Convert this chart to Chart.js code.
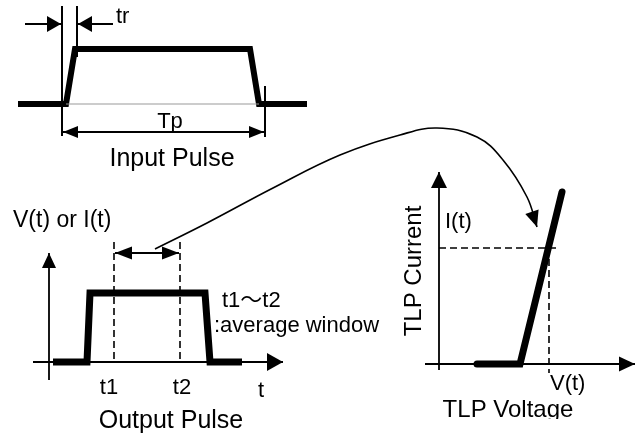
<!DOCTYPE html>
<html>
<head>
<meta charset="utf-8">
<title>TLP measurement</title>
<script src="https://cdn.jsdelivr.net/npm/chart.js@4/dist/chart.umd.min.js"></script>
<style>
  html, body { margin: 0; padding: 0; background: #fff; }
  canvas { display: block; }
</style>
</head>
<body>
<canvas id="TlpBox" width="639" height="438"></canvas>
<script>
        // diagram units, y grows downward (y scale is reversed)

        // input pulse
        const inputPulse = [[18,104],[66,104],[75,49],[250,49],[259,104],[307,104]];
        const inputBase = [[66,104],[259,104]];
        const riseMarkLeft = [[62,6],[62,136]];
        const riseMarkRight = [[77,6],[77,57]];
        const widthMarkRight = [[265,86],[265,137]];
        const trArrowIn = [[25,24],[61,24]];
        const trArrowOut = [[113,24],[78,24]];
        const tpArrow = [[63,132],[264,132]];

        // output pulse
        const outAxisY = [[49,380],[49,253]];
        const outAxisX = [[33,362],[283,362]];
        const outputPulse = [[53,362],[87,362],[90,293],[205,293],[210,362],[242,362]];
        const windowT1 = [[114,242],[114,362]];
        const windowT2 = [[180,242],[180,362]];
        const windowArrow = [[115,253],[179,253]];

        // curved link arrow
        const linkCurve = [[155,249],[207,223],[273,188],[340,155],[400,135],[437,128],[477,137],[503,160],[527,197],[537,227]];

        // TLP I-V plot
        const tlpAxisY = [[439,370],[439,172]];
        const tlpAxisX = [[425,364],[635,364]];
        const tlpCurve = [[477,364],[520,364],[562,192]];
        const tlpCurrentLevel = [[439,248],[558,248]];
        const tlpVoltageLevel = [[549,248],[549,373]];

        const labelText = ['tr', 'Tp', 'Input Pulse', 'V(t) or I(t)', 't1～t2', ':average window',
            't1', 't2', 't', 'Output Pulse', 'I(t)', 'V(t)', 'TLP Voltage', 'TLP Current'];

        function seg(points, style) {
            return Object.assign({
                data: points.map(p => ({x: p[0], y: p[1]})),
                showLine: true,
                pointRadius: 0,
                borderColor: '#000',
                borderWidth: 1.8,
                fill: false,
                tension: 0
            }, style || {});
        }

        const thick = {borderWidth: 6, borderJoinStyle: 'miter'};
        const dashed = {borderWidth: 1.6, borderDash: [7, 4]};

        // arrow heads at the ends of flagged datasets
        const arrowHeads = {
            id: 'arrowHeads',
            afterDatasetsDraw(chart) {
                const ctx = chart.ctx;
                chart.data.datasets.forEach((ds, i) => {
                    if (!ds.arrow) return;
                    const pts = chart.getDatasetMeta(i).data;
                    const len = ds.arrowSize[0], half = ds.arrowSize[1];
                    const head = (tip, from) => {
                        const a = Math.atan2(tip.y - from.y, tip.x - from.x);
                        ctx.save();
                        ctx.translate(tip.x, tip.y);
                        ctx.rotate(a);
                        ctx.beginPath();
                        ctx.moveTo(0, 0);
                        ctx.lineTo(-len, -half);
                        ctx.lineTo(-len, half);
                        ctx.closePath();
                        ctx.fillStyle = '#000';
                        ctx.fill();
                        ctx.restore();
                    };
                    if (ds.arrow === 'end' || ds.arrow === 'both') head(pts[pts.length - 1], pts[pts.length - 2]);
                    if (ds.arrow === 'start' || ds.arrow === 'both') head(pts[0], pts[1]);
                });
            }
        };

        // text labels placed through the scales
        const diagramText = {
            id: 'diagramText',
            afterDraw(chart, args, opts) {
                const ctx = chart.ctx;
                const sx = chart.scales.x, sy = chart.scales.y;
                opts.items.forEach(it => {
                    ctx.save();
                    if (it.clipY) {
                        ctx.beginPath();
                        ctx.rect(0, 0, chart.width, sy.getPixelForValue(it.clipY));
                        ctx.clip();
                    }
                    ctx.translate(sx.getPixelForValue(it.x), sy.getPixelForValue(it.y));
                    if (it.rotate) ctx.rotate(it.rotate * Math.PI / 180);
                    ctx.font = it.size + 'px "Liberation Sans", Arial, "Noto Sans CJK JP", sans-serif';
                    ctx.fillStyle = '#000';
                    ctx.textAlign = it.align || 'center';
                    ctx.textBaseline = it.baseline || 'alphabetic';
                    ctx.fillText(labelText[it.t], 0, 0);
                    ctx.restore();
                });
            }
        };

        const DiagramData = {
            datasets: [
                seg(inputBase, {borderColor: '#999', borderWidth: 1}),
                seg(inputPulse, thick),
                seg(riseMarkLeft, {borderWidth: 2}),
                seg(riseMarkRight, {borderWidth: 2}),
                seg(widthMarkRight, {borderWidth: 2}),
                seg(trArrowIn, {arrow: 'end', arrowSize: [14, 8]}),
                seg(trArrowOut, {arrow: 'end', arrowSize: [14, 8]}),
                seg(tpArrow, {arrow: 'both', arrowSize: [15, 6]}),

                seg(outAxisY, {arrow: 'end', arrowSize: [15, 7]}),
                seg(outAxisX, {arrow: 'end', arrowSize: [16, 9]}),
                seg(outputPulse, Object.assign({}, thick, {borderWidth: 7})),
                seg(windowT1, dashed),
                seg(windowT2, dashed),
                seg(windowArrow, {arrow: 'both', arrowSize: [17, 6.5]}),

                seg(linkCurve, {tension: 0.4, borderWidth: 1.6, arrow: 'end', arrowSize: [16, 7]}),

                seg(tlpAxisY, {arrow: 'end', arrowSize: [16, 8]}),
                seg(tlpAxisX, {arrow: 'end', arrowSize: [16, 7.5]}),
                seg(tlpCurrentLevel, dashed),
                seg(tlpVoltageLevel, dashed),
                seg(tlpCurve, {borderWidth: 7, borderJoinStyle: 'miter', borderCapStyle: 'round'})
            ]
        };

        const DiagramConfig = {
            type: 'scatter',
            data: DiagramData,
            options: {
                animation: false,
                responsive: false,
                devicePixelRatio: 1,
                events: [],
                layout: {padding: 0},
                scales: {
                    x: {type: 'linear', min: 0, max: 639, display: false},
                    y: {type: 'linear', min: 0, max: 438, reverse: true, display: false}
                },
                plugins: {
                    legend: {display: false},
                    tooltip: {enabled: false},
                    diagramText: {
                        items: [
                            {t: 0, x: 116, y: 23, align: 'left', size: 22},
                            {t: 1, x: 170, y: 128, size: 22},
                            {t: 2, x: 172, y: 166, size: 25},
                            {t: 3, x: 13, y: 227, align: 'left', size: 23},
                            {t: 4, x: 222, y: 307, align: 'left', size: 22},
                            {t: 5, x: 214, y: 332, align: 'left', size: 22},
                            {t: 6, x: 109, y: 394, size: 22},
                            {t: 7, x: 182, y: 394, size: 22},
                            {t: 8, x: 261, y: 397, size: 22},
                            {t: 9, x: 171, y: 428, size: 25},
                            {t: 10, x: 445, y: 228, align: 'left', size: 22},
                            {t: 11, x: 550, y: 390, align: 'left', size: 22},
                            {t: 12, x: 508, y: 417, size: 24, clipY: 419},
                            {t: 13, x: 414, y: 271, size: 24, rotate: -90, baseline: 'middle'}
                        ]
                    }
                }
            },
            plugins: [arrowHeads, diagramText]
        };

        window.onload = function() {
            const ctx = document.getElementById('TlpBox').getContext('2d');
            new Chart(ctx, DiagramConfig);
        };
</script>
</body>
</html>
